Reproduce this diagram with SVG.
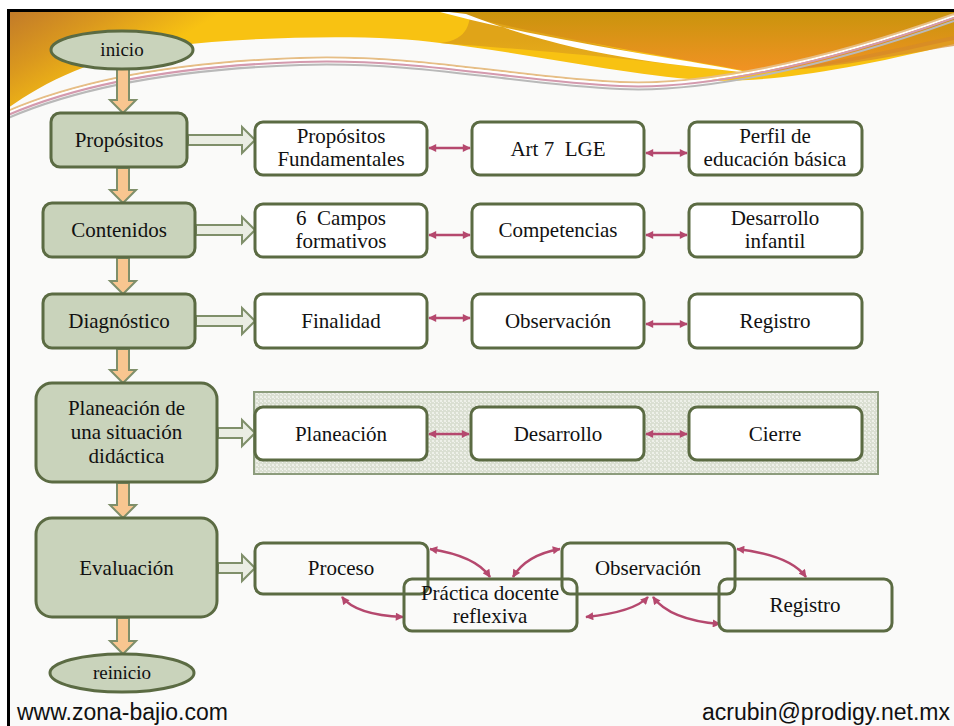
<svg xmlns="http://www.w3.org/2000/svg" width="954" height="726" viewBox="0 0 954 726">
<defs>
<linearGradient id="gBase" gradientUnits="userSpaceOnUse" x1="0" y1="10" x2="60" y2="110">
<stop offset="0" stop-color="#BF772A"/><stop offset="0.5" stop-color="#DA981E"/><stop offset="1" stop-color="#F8C212"/>
</linearGradient>
<linearGradient id="gRight" gradientUnits="userSpaceOnUse" x1="0" y1="10" x2="0" y2="72">
<stop offset="0" stop-color="#C8940C"/><stop offset="1" stop-color="#F29224"/>
</linearGradient>
<linearGradient id="gBand" gradientUnits="userSpaceOnUse" x1="0" y1="40" x2="0" y2="80">
<stop offset="0" stop-color="#E0A418"/><stop offset="1" stop-color="#EDB41C"/>
</linearGradient>
<pattern id="dots" width="4" height="4" patternUnits="userSpaceOnUse">
<rect width="4" height="4" fill="#DADFD2"/><rect x="0" y="0" width="2" height="2" fill="#EEF0E9"/><rect x="2" y="2" width="1" height="1" fill="#F2F3EE"/>
</pattern>
<marker id="ah" viewBox="0 0 10 10" refX="9" refY="5" markerWidth="9" markerHeight="8" markerUnits="userSpaceOnUse" orient="auto-start-reverse">
<path d="M0,0 L10,5 L0,10 z" fill="#B5486E"/>
</marker>
<style>
.main{fill:#C9D3BB;stroke:#5B6B43;stroke-width:3}
.box{fill:#FFFFFF;stroke:#5B6B43;stroke-width:3}
.ov{fill:none;stroke:#5B6B43;stroke-width:3}
.down{fill:#F8C690;stroke:#7F8F6A;stroke-width:2}
.right{fill:#EAEDE3;stroke:#7F8F6A;stroke-width:2}
.link{fill:none;stroke:#B5486E;stroke-width:2.5;marker-start:url(#ah);marker-end:url(#ah)}
text{font-family:"Liberation Serif","Times New Roman",serif;font-size:21px;fill:#111;text-anchor:middle}
.pre{white-space:pre}
.foot{font-family:"Liberation Sans",Arial,sans-serif;font-size:23px;fill:#111}
.swl{fill:none;stroke-width:2}
</style>
</defs>

<!-- background -->
<rect x="0" y="0" width="954" height="726" fill="#FFFFFF"/>
<rect x="8" y="10" width="946" height="716" fill="#FAFAF9"/>

<!-- header band -->
<g id="header">
<path d="M8 10 L954 10 L954 44 C840 72 760 84 700 80 C620 74 520 52 440 43 C380 34 260 36 170 46 C95 56 45 82 8 108 Z" fill="url(#gBase)"/>
<path d="M470 10 C560 40 660 58 752 74 C640 60 560 52 440 43 C470 40 470 20 470 10 Z" fill="url(#gBand)"/>
<path d="M438 10 L954 10 L954 40 C880 56 820 70 752 72 C690 60 580 44 438 10 Z" fill="url(#gRight)"/>
<path d="M954 36 C880 52 820 66 752 72 C830 70 890 56 954 46 Z" fill="#D68A2A" opacity="0.7"/>
<path d="M432 10 C560 44 680 58 752 73 C670 64 580 58 466 14 Z" fill="#FFFFFF"/>
<path class="swl" stroke="#E6BE86" d="M8 111 C80 80 180 62 300 58 C420 54 520 78 620 82 C700 86 820 62 954 14"/>
<path class="swl" stroke="#FFFFFF" d="M8 113 C80 82 180 64 300 60 C420 56 520 80 620 84 C700 88 820 64 954 16"/>
<path class="swl" stroke="#D49AAE" d="M8 115 C80 84 180 66 300 62 C420 58 520 82 620 86 C700 90 820 66 954 18"/>
<path class="swl" stroke="#B9B9B9" d="M8 118 C80 87 180 69 300 65 C420 61 520 85 620 89 C700 93 820 69 954 21"/>
</g>

<!-- frame -->
<path d="M8.5 726 L8.5 10.5 L954 10.5" fill="none" stroke="#000" stroke-width="3"/>

<!-- panel -->
<rect id="panel" x="254" y="392" width="624" height="82" fill="url(#dots)" stroke="#8C9C7C" stroke-width="2"/>

<!-- connectors -->
<g id="connectors">
<path class="down" d="M117 69 L129 69 L129 100 L136 100 L123 113 L110 100 L117 100 Z"/>
<path class="down" d="M117 168 L129 168 L129 190 L136 190 L123 203 L110 190 L117 190 Z"/>
<path class="down" d="M117 258 L129 258 L129 281 L136 281 L123 294 L110 281 L117 281 Z"/>
<path class="down" d="M117 349 L129 349 L129 370 L136 370 L123 383 L110 370 L117 370 Z"/>
<path class="down" d="M117 483 L129 483 L129 505 L136 505 L123 518 L110 505 L117 505 Z"/>
<path class="down" d="M117 618 L129 618 L129 641 L136 641 L123 654 L110 641 L117 641 Z"/>
<path class="right" d="M188 135 L242 135 L242 127 L255 140 L242 153 L242 145 L188 145 Z"/>
<path class="right" d="M196 225 L242 225 L242 217 L255 230 L242 243 L242 235 L196 235 Z"/>
<path class="right" d="M196 316 L242 316 L242 308 L255 321 L242 334 L242 326 L196 326 Z"/>
<path class="right" d="M218 428 L242 428 L242 420 L255 433 L242 446 L242 438 L218 438 Z"/>
<path class="right" d="M218 563 L242 563 L242 555 L255 568 L242 581 L242 573 L218 573 Z"/>
<path class="link" d="M429 148 L470 148"/>
<path class="link" d="M646 153 L687 153"/>
<path class="link" d="M429 235 L470 235"/>
<path class="link" d="M646 235 L687 235"/>
<path class="link" d="M429 318 L470 318"/>
<path class="link" d="M646 324 L687 324"/>
<path class="link" d="M429 434 L469 434"/>
<path class="link" d="M646 434 L687 434"/>
<path class="link" d="M430 549 Q476 556 490 577"/>
<path class="link" d="M513 577 Q526 555 560 549"/>
<path class="link" d="M342 597 Q356 615 403 617"/>
<path class="link" d="M586 617 Q634 612 648 597"/>
<path class="link" d="M653 597 Q670 620 720 624"/>
<path class="link" d="M737 549 Q790 555 806 577"/>
</g>

<!-- left column -->
<g id="inicio"><ellipse class="main" cx="122" cy="50" rx="71" ry="19"/><text x="122" y="56" style="font-size:19px">inicio</text></g>
<g id="propositos"><rect class="main" x="51" y="113" width="136" height="54" rx="9"/><text x="119" y="147">Propósitos</text></g>
<g id="contenidos"><rect class="main" x="43" y="203" width="152" height="54" rx="9"/><text x="119" y="237">Contenidos</text></g>
<g id="diagnostico"><rect class="main" x="43" y="294" width="152" height="54" rx="9"/><text x="119" y="328">Diagnóstico</text></g>
<g id="planeacion-situacion"><rect class="main" x="36" y="383" width="181" height="99" rx="16"/><text x="126.5" y="415">Planeación de</text><text x="126.5" y="439">una situación</text><text x="126.5" y="463">didáctica</text></g>
<g id="evaluacion"><rect class="main" x="36" y="518" width="181" height="99" rx="16"/><text x="126.5" y="575">Evaluación</text></g>
<g id="reinicio"><ellipse class="main" cx="122" cy="673" rx="72" ry="19"/><text x="122" y="679" style="font-size:19px">reinicio</text></g>

<!-- row 1 -->
<g id="prop-fund"><rect class="box" x="255" y="122" width="172" height="53" rx="8"/><text x="341" y="143">Propósitos</text><text x="341" y="166">Fundamentales</text></g>
<g id="art7"><rect class="box" x="472" y="122" width="172" height="53" rx="8"/><text class="pre" x="558" y="156" xml:space="preserve">Art 7  LGE</text></g>
<g id="perfil"><rect class="box" x="689" y="122" width="173" height="53" rx="8"/><text x="775" y="143">Perfil de</text><text x="775" y="166">educación básica</text></g>

<!-- row 2 -->
<g id="campos"><rect class="box" x="255" y="204" width="172" height="53" rx="8"/><text class="pre" x="341" y="225" xml:space="preserve">6  Campos</text><text x="341" y="248">formativos</text></g>
<g id="competencias"><rect class="box" x="472" y="204" width="172" height="53" rx="8"/><text x="558" y="237">Competencias</text></g>
<g id="desarrollo-inf"><rect class="box" x="689" y="204" width="173" height="53" rx="8"/><text x="775" y="225">Desarrollo</text><text x="775" y="248">infantil</text></g>

<!-- row 3 -->
<g id="finalidad"><rect class="box" x="255" y="294" width="172" height="54" rx="8"/><text x="341" y="328">Finalidad</text></g>
<g id="observacion1"><rect class="box" x="472" y="294" width="172" height="54" rx="8"/><text x="558" y="328">Observación</text></g>
<g id="registro1"><rect class="box" x="689" y="294" width="173" height="54" rx="8"/><text x="775" y="328">Registro</text></g>

<!-- row 4 -->
<g id="planeacion"><rect class="box" x="255" y="407" width="172" height="53" rx="8"/><text x="341" y="441">Planeación</text></g>
<g id="desarrollo"><rect class="box" x="471" y="407" width="173" height="53" rx="8"/><text x="558" y="441">Desarrollo</text></g>
<g id="cierre"><rect class="box" x="689" y="407" width="173" height="53" rx="8"/><text x="775" y="441">Cierre</text></g>

<!-- row 5 -->
<g id="proceso"><rect class="ov" x="255" y="543" width="173" height="51" rx="8"/><text x="341" y="575">Proceso</text></g>
<g id="observacion2"><rect class="ov" x="562" y="543" width="173" height="51" rx="8"/><text x="648" y="575">Observación</text></g>
<g id="practica"><rect class="ov" x="404" y="579" width="173" height="52" rx="8"/><text x="490" y="600">Práctica docente</text><text x="490" y="623">reflexiva</text></g>
<g id="registro2"><rect class="ov" x="719" y="579" width="173" height="52" rx="8"/><text x="805" y="612">Registro</text></g>

<!-- footer -->
<text class="foot" x="17" y="720" style="text-anchor:start">www.zona-bajio.com</text>
<text class="foot" x="950" y="720" style="text-anchor:end">acrubin@prodigy.net.mx</text>
</svg>
